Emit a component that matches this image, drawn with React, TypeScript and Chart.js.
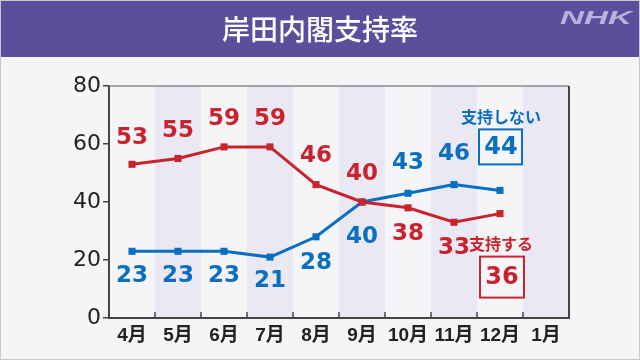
import React, { useEffect, useRef } from "react";
import { Chart, registerables } from "chart.js";

Chart.register(...registerables);

// ---- data ----
const months = ["4月", "5月", "6月", "7月", "8月", "9月", "10月", "11月", "12月", "1月"];
const approve = [53, 55, 59, 59, 46, 40, 38, 33, 36]; // 支持する
const disapprove = [23, 23, 23, 21, 28, 40, 43, 46, 44]; // 支持しない
const yTickValues = [0, 20, 40, 60, 80];
const title = "岸田内閣支持率";
const approveName = "支持する";
const disapproveName = "支持しない";

// label placement (pixel offsets from the point, styles only)
const approveLabelDy = [-26, -27, -28, -28, -29, -28, 26, 26];
const disapproveLabelDy = [25, 25, 25, 24, 26, 35, -30, -31];

const RED = "#c8232f";
const BLUE = "#0b6fc1";
const BG = "#f5f5f7";
const BAND = "#e9e8f3";
const HEADER = "#5b4f9c";
const NUMFONT = "'DejaVu Sans', 'Noto Sans CJK JP', sans-serif";
const TICKFONT = "'Liberation Sans', 'Noto Sans CJK JP', sans-serif";
const JPFONT = "'Noto Sans CJK JP', sans-serif";

const decor = {
  id: "decor",
  beforeDraw(chart: any) {
    const { ctx, chartArea: a, scales } = chart;
    const W = chart.width;
    const H = chart.height;
    const x = scales.x;
    ctx.save();
    ctx.fillStyle = BG;
    ctx.fillRect(0, 0, W, H);
    // header
    ctx.fillStyle = HEADER;
    ctx.fillRect(0, 0, W, 57);
    ctx.fillStyle = "#ffffff";
    ctx.font = `500 28px ${JPFONT}`;
    ctx.textAlign = "center";
    ctx.textBaseline = "middle";
    ctx.fillText(title, W / 2, 29);
    // NHK logo
    ctx.save();
    ctx.font = `italic bold 19px 'Liberation Sans', sans-serif`;
    const w = ctx.measureText("NHK").width;
    ctx.translate(560, 19);
    ctx.scale(72 / w, 1);
    ctx.fillStyle = "#b7b2de";
    ctx.textAlign = "left";
    ctx.fillText("NHK", 0, 0);
    ctx.restore();
    // bands
    const half = (x.getPixelForValue(1) - x.getPixelForValue(0)) / 2;
    ctx.fillStyle = BAND;
    for (let i = 1; i < months.length; i += 2) {
      const cx = x.getPixelForValue(i);
      ctx.fillRect(cx - half, a.top, half * 2, a.bottom - a.top);
    }
    ctx.restore();
  },
  beforeDatasetsDraw(chart: any) {
    const { ctx, chartArea: a, scales } = chart;
    const x = scales.x;
    ctx.save();
    // top border
    ctx.strokeStyle = "#8a8a8a";
    ctx.lineWidth = 1.5;
    ctx.beginPath();
    ctx.moveTo(a.left, a.top);
    ctx.lineTo(a.right, a.top);
    ctx.stroke();
    // right border
    ctx.strokeStyle = "#444";
    ctx.lineWidth = 2;
    ctx.beginPath();
    ctx.moveTo(a.right, a.top);
    ctx.lineTo(a.right, a.bottom);
    ctx.stroke();
    // inward x tick marks at category boundaries
    const half = (x.getPixelForValue(1) - x.getPixelForValue(0)) / 2;
    ctx.lineWidth = 1.5;
    for (let i = 0; i < months.length - 1; i++) {
      const bx = x.getPixelForValue(i) + half;
      ctx.beginPath();
      ctx.moveTo(bx, a.bottom);
      ctx.lineTo(bx, a.bottom - 6);
      ctx.stroke();
    }
    // month labels positioned by the x scale
    ctx.fillStyle = "#222";
    ctx.font = `bold 19px ${TICKFONT}`;
    ctx.textAlign = "center";
    ctx.textBaseline = "middle";
    for (let i = 0; i < months.length; i++) {
      ctx.fillText(months[i], x.getPixelForValue(i), a.bottom + 18);
    }
    ctx.restore();
  },
  afterDatasetsDraw(chart: any) {
    const { ctx } = chart;
    ctx.save();
    ctx.textAlign = "center";
    ctx.textBaseline = "middle";
    ctx.font = `bold 23px ${NUMFONT}`;
    const draw = (dsIndex: number, values: number[], dys: number[], color: string) => {
      const meta = chart.getDatasetMeta(dsIndex);
      ctx.fillStyle = color;
      for (let i = 0; i < values.length - 1; i++) {
        const p = meta.data[i];
        ctx.fillText(String(values[i]), p.x, p.y + dys[i]);
      }
      return meta.data[values.length - 1];
    };
    const lastRed = draw(0, approve, approveLabelDy, RED);
    const lastBlue = draw(1, disapprove, disapproveLabelDy, BLUE);

    // blue legend + box
    ctx.fillStyle = BLUE;
    ctx.font = `bold 16px ${JPFONT}`;
    ctx.fillText(disapproveName, lastBlue.x + 1, lastBlue.y - 73);
    ctx.fillStyle = BG;
    ctx.strokeStyle = BLUE;
    ctx.lineWidth = 2;
    ctx.fillRect(lastBlue.x - 21, lastBlue.y - 61, 43, 35);
    ctx.strokeRect(lastBlue.x - 21, lastBlue.y - 61, 43, 35);
    ctx.fillStyle = BLUE;
    ctx.font = `bold 24px ${NUMFONT}`;
    ctx.fillText(String(disapprove[disapprove.length - 1]), lastBlue.x + 1, lastBlue.y - 43);

    // red legend + box
    ctx.fillStyle = RED;
    ctx.font = `bold 16px ${JPFONT}`;
    ctx.fillText(approveName, lastRed.x + 1, lastRed.y + 30);
    ctx.fillStyle = BG;
    ctx.strokeStyle = RED;
    ctx.fillRect(lastRed.x - 20, lastRed.y + 43, 44, 41);
    ctx.strokeRect(lastRed.x - 20, lastRed.y + 43, 44, 41);
    ctx.fillStyle = RED;
    ctx.font = `bold 24px ${NUMFONT}`;
    ctx.fillText(String(approve[approve.length - 1]), lastRed.x + 2, lastRed.y + 64);
    ctx.restore();
  },
  afterDraw(chart: any) {
    const { ctx } = chart;
    ctx.save();
    ctx.strokeStyle = "#c9c9c9";
    ctx.lineWidth = 1;
    ctx.strokeRect(0.5, 0.5, chart.width - 1, chart.height - 1);
    ctx.restore();
  },
};

export default function App() {
  const ref = useRef<HTMLCanvasElement | null>(null);
  useEffect(() => {
    document.body.style.margin = "0";
    const canvas = ref.current;
    if (!canvas) return;
    const chart = new Chart(canvas, {
      type: "line",
      data: {
        labels: months,
        datasets: [
          {
            label: approveName,
            data: approve,
            borderColor: RED,
            backgroundColor: RED,
            borderWidth: 3,
            pointStyle: "rect",
            pointRadius: 5,
            pointBorderWidth: 0,
            tension: 0,
          },
          {
            label: disapproveName,
            data: disapprove,
            borderColor: BLUE,
            backgroundColor: BLUE,
            borderWidth: 3,
            pointStyle: "rect",
            pointRadius: 5,
            pointBorderWidth: 0,
            tension: 0,
          },
        ],
      },
      options: {
        responsive: false,
        animation: false,
        devicePixelRatio: 1,
        layout: { padding: { top: 86, right: 71, left: 0, bottom: 0 } },
        plugins: { legend: { display: false }, tooltip: { enabled: false } },
        scales: {
          x: {
            type: "category",
            offset: true,
            grid: { display: false, drawTicks: false },
            border: { display: true, color: "#444", width: 2 },
            ticks: { display: false },
            afterFit: (s: any) => {
              s.height = 42;
            },
          },
          y: {
            min: 0,
            max: 80,
            afterBuildTicks: (s: any) => {
              s.ticks = yTickValues.map((v) => ({ value: v }));
            },
            grid: {
              display: true,
              drawOnChartArea: false,
              drawTicks: true,
              tickLength: 6,
              color: "#444",
              lineWidth: 1.5,
            },
            border: { display: true, color: "#444", width: 2 },
            ticks: {
              color: "#222",
              padding: 2,
              font: { family: NUMFONT, size: 22 },
            },
            afterFit: (s: any) => {
              s.width = 109;
            },
          },
        },
      },
      plugins: [decor],
    } as any);
    return () => chart.destroy();
  }, []);
  return (
    <div style={{ width: 640, height: 360 }}>
      <canvas ref={ref} width={640} height={360} style={{ display: "block" }} />
    </div>
  );
}
